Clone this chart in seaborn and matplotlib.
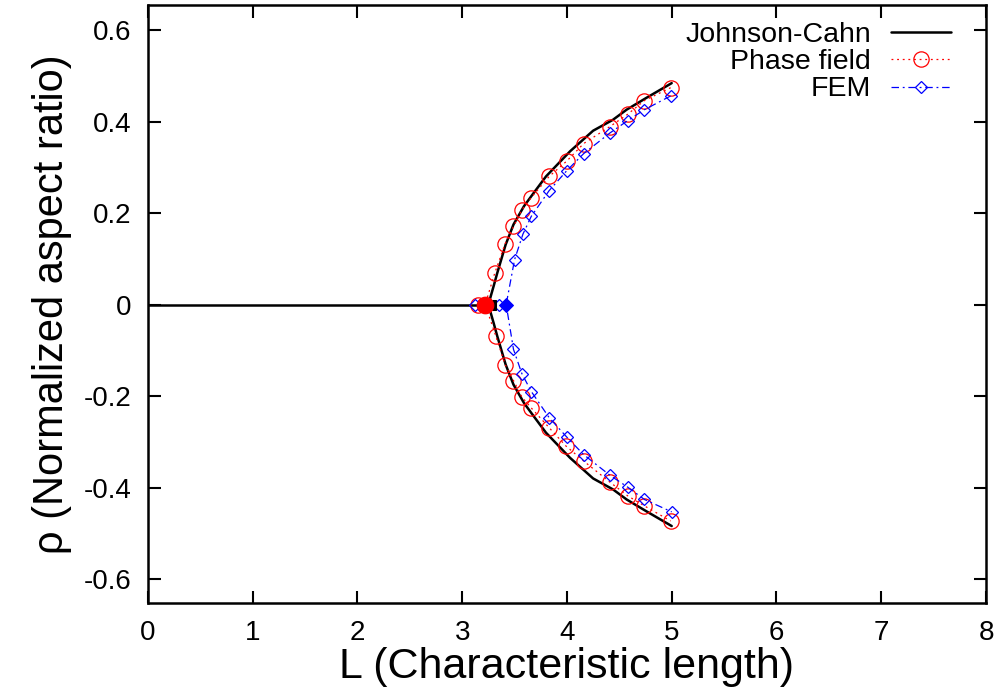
import matplotlib
matplotlib.use("Agg")
import matplotlib.pyplot as plt
import seaborn as sns
from matplotlib import font_manager

# ---------------- data ----------------
# Johnson-Cahn theory (horizontal trivial branch + bifurcated branches)
jc_L_flat = [0.0, 3.25]
jc_rho_flat = [0.0, 0.0]
jc_L_upper = [3.25, 3.30, 3.335, 3.415, 3.49, 3.59, 3.67, 3.80, 4.03, 4.25, 4.44, 4.57, 4.76, 5.0]
jc_rho_upper = [0.0, 0.040, 0.069, 0.131, 0.175, 0.215, 0.240, 0.280, 0.335, 0.380, 0.404, 0.426, 0.452, 0.484]
jc_L_lower = [3.25, 3.30, 3.335, 3.415, 3.49, 3.59, 3.67, 3.80, 4.03, 4.25, 4.44, 4.57, 4.76, 5.0]
jc_rho_lower = [0.0, -0.040, -0.069, -0.131, -0.175, -0.215, -0.240, -0.280, -0.335, -0.380, -0.404, -0.426, -0.452, -0.484]
jc_crit_L = [3.28]
jc_crit_rho = [0.0]

# Phase field simulation
pf_L = [4.99, 4.74, 4.58, 4.41, 4.16, 4.00, 3.83, 3.66, 3.57, 3.49, 3.41, 3.31,
        3.22,
        3.32, 3.41, 3.49, 3.57, 3.66, 3.83, 3.99, 4.16, 4.41, 4.58, 4.74, 4.99]
pf_rho = [0.474, 0.446, 0.416, 0.389, 0.352, 0.314, 0.280, 0.234, 0.207, 0.171, 0.133, 0.068,
          0.0,
          -0.068, -0.131, -0.166, -0.202, -0.226, -0.269, -0.309, -0.342, -0.388, -0.418, -0.440, -0.473]
pf_zero_open_L = [3.15]
pf_zero_open_rho = [0.0]
pf_crit_L = [3.22]
pf_crit_rho = [0.0]

# FEM simulation
fem_L = [4.99, 4.74, 4.58, 4.41, 4.16, 4.00, 3.83, 3.66, 3.58, 3.50,
         3.42,
         3.49, 3.57, 3.66, 3.83, 4.00, 4.16, 4.41, 4.58, 4.74, 5.00]
fem_rho = [0.456, 0.426, 0.402, 0.375, 0.330, 0.293, 0.249, 0.193, 0.154, 0.098,
           0.0,
           -0.098, -0.151, -0.190, -0.247, -0.290, -0.328, -0.373, -0.399, -0.426, -0.453]
fem_zero_open_L = [3.12, 3.35]
fem_zero_open_rho = [0.0, 0.0]
fem_crit_L = [3.42]
fem_crit_rho = [0.0]

x_ticks = [0, 1, 2, 3, 4, 5, 6, 7, 8]
y_ticks = [-0.6, -0.4, -0.2, 0.0, 0.2, 0.4, 0.6]
y_tick_labels = ["-0.6", "-0.4", "-0.2", "0", "0.2", "0.4", "0.6"]

# ---------------- style ----------------
sns.set_theme(style="white")
names = {f.name for f in font_manager.fontManager.ttflist}
main_font = ["Liberation Sans", "DejaVu Sans"]
tick_font = (["Liberation Sans Narrow"] if "Liberation Sans Narrow" in names else []) + main_font
plt.rcParams["font.family"] = main_font
plt.rcParams["text.color"] = "black"
plt.rcParams["axes.labelcolor"] = "black"
plt.rcParams["xtick.color"] = "black"
plt.rcParams["ytick.color"] = "black"

fig = plt.figure(figsize=(9.99, 6.97), dpi=100)
ax = fig.add_axes([0.148, 0.135, 0.839, 0.858])

# Johnson-Cahn
sns.lineplot(x=jc_L_flat, y=jc_rho_flat, sort=False, estimator=None, ax=ax,
             color="black", linewidth=1.8, label="Johnson-Cahn")
sns.lineplot(x=jc_L_upper, y=jc_rho_upper, sort=False, estimator=None, ax=ax,
             color="black", linewidth=1.8, legend=False)
sns.lineplot(x=jc_L_lower, y=jc_rho_lower, sort=False, estimator=None, ax=ax,
             color="black", linewidth=1.8, legend=False)

# Phase field
sns.lineplot(x=pf_L, y=pf_rho, sort=False, estimator=None, ax=ax,
             color="red", linewidth=0.9, linestyle=(0, (1.5, 3)),
             marker="o", markersize=11, markerfacecolor="none",
             markeredgecolor="red", markeredgewidth=0.9, label="Phase field")
sns.lineplot(x=pf_zero_open_L, y=pf_zero_open_rho, sort=False, estimator=None, ax=ax,
             color="red", linestyle="none",
             marker="o", markersize=11, markerfacecolor="none",
             markeredgecolor="red", markeredgewidth=0.9, legend=False)

# FEM
sns.lineplot(x=fem_L, y=fem_rho, sort=False, estimator=None, ax=ax,
             color="blue", linewidth=0.9, linestyle=(0, (6, 3, 1.5, 3)),
             marker="D", markersize=6.5, markerfacecolor="none",
             markeredgecolor="blue", markeredgewidth=0.9, label="FEM")
sns.lineplot(x=fem_zero_open_L, y=fem_zero_open_rho, sort=False, estimator=None, ax=ax,
             color="blue", linestyle="none",
             marker="D", markersize=6.5, markerfacecolor="none",
             markeredgecolor="blue", markeredgewidth=0.9, legend=False)

# critical points (filled)
sns.lineplot(x=jc_crit_L, y=jc_crit_rho, ax=ax, linestyle="none", marker="s",
             markersize=7, color="black", markeredgecolor="black", legend=False)
sns.lineplot(x=pf_crit_L, y=pf_crit_rho, ax=ax, linestyle="none", marker="o",
             markersize=12, color="red", markeredgecolor="red", legend=False)
sns.lineplot(x=fem_crit_L, y=fem_crit_rho, ax=ax, linestyle="none", marker="D",
             markersize=7.5, color="blue", markeredgecolor="blue", legend=False)

ax.set_xlim(0, 8)
ax.set_ylim(-0.652, 0.655)
ax.set_xticks(x_ticks)
ax.set_xticklabels([str(t) for t in x_ticks])
ax.set_yticks(y_ticks)
ax.set_yticklabels(y_tick_labels)
for lab in ax.get_xticklabels() + ax.get_yticklabels():
    lab.set_family(tick_font)
    lab.set_fontsize(20)
    lab.set_color("black")

ax.tick_params(direction="in", length=9, width=1.5, top=True, right=True,
               bottom=True, left=True, pad=12, colors="black")
for s in ax.spines.values():
    s.set_visible(True)
    s.set_linewidth(1.8)
    s.set_color("black")

ax.set_xlabel("L (Characteristic length)", fontsize=31, labelpad=1, color="black")
ax.set_ylabel("ρ (Normalized aspect ratio)", fontsize=30, labelpad=8, color="black")

leg = ax.legend(loc="upper right", bbox_to_anchor=(0.958, 0.972), frameon=False,
                markerfirst=False, fontsize=20.5, labelspacing=0.05, handlelength=2.1,
                handletextpad=0.7, borderpad=0, borderaxespad=0)
for t in leg.get_texts():
    t.set_ha("right")
    t.set_color("black")

fig.savefig("out.png", dpi=100)
